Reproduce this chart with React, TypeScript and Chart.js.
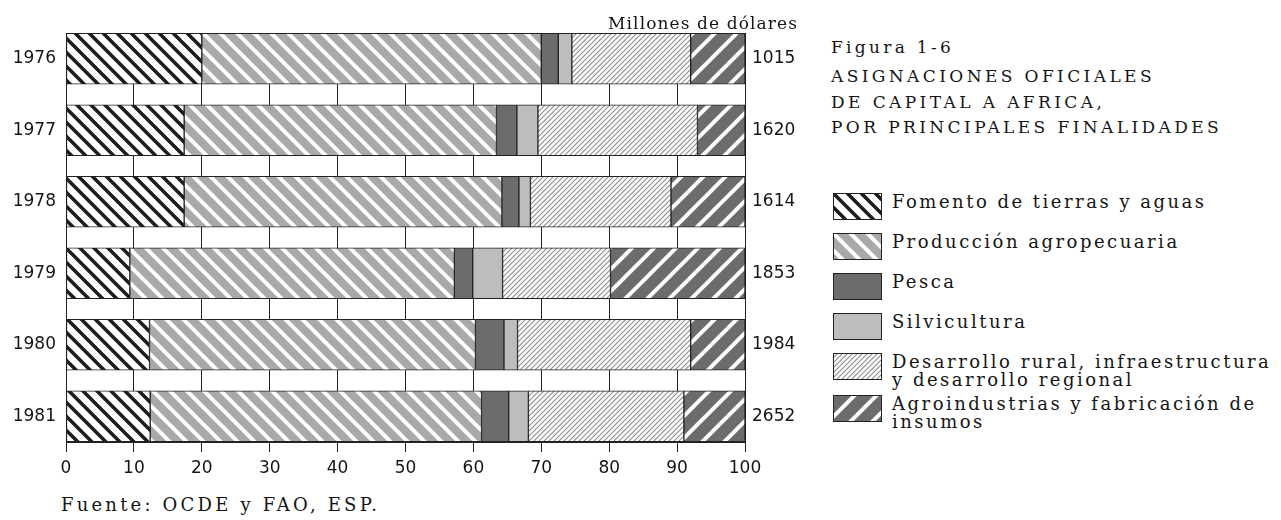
import React, { useEffect, useRef } from 'react';
import { Chart, registerables } from 'chart.js';

Chart.register(...registerables);

const years = ['1976', '1977', '1978', '1979', '1980', '1981'];
const totals = ['1015', '1620', '1614', '1853', '1984', '2652'];

const fomento = [20, 17.4, 17.4, 9.4, 12.3, 12.4];
const produccion = [50, 46, 46.8, 47.8, 48, 48.8];
const pesca = [2.5, 3, 2.5, 2.7, 4.2, 4];
const silvicultura = [2, 3.1, 1.7, 4.4, 2, 2.9];
const desarrollo = [17.5, 23.5, 20.7, 15.9, 25.5, 22.9];
const agroindustrias = [8, 7, 10.9, 19.8, 8, 9];

const seriesLabels = [
  ['Fomento de tierras y aguas'],
  ['Producción agropecuaria'],
  ['Pesca'],
  ['Silvicultura'],
  ['Desarrollo rural, infraestructura', 'y desarrollo regional'],
  ['Agroindustrias y fabricación de', 'insumos'],
];

const titleLines = ['ASIGNACIONES OFICIALES', 'DE CAPITAL A AFRICA,', 'POR PRINCIPALES FINALIDADES'];

type Spec = { bg: string; stripe?: string; dir?: 'back' | 'fwd'; size?: number; width?: number };

const specs: Spec[] = [
  { bg: '#ffffff', stripe: '#1c1c1c', dir: 'back', size: 14, width: 3.5 },
  { bg: '#a9a9a9', stripe: '#ffffff', dir: 'back', size: 17, width: 4 },
  { bg: '#6c6c6c' },
  { bg: '#bdbdbd' },
  { bg: '#ffffff', stripe: '#8c8c8c', dir: 'fwd', size: 5, width: 1.1 },
  { bg: '#6c6c6c', stripe: '#ffffff', dir: 'fwd', size: 22, width: 4 },
];

function makePattern(ctx: CanvasRenderingContext2D, spec: Spec): CanvasPattern | string {
  if (!spec.stripe) return spec.bg;
  const s = spec.size || 10;
  const c = document.createElement('canvas');
  c.width = s;
  c.height = s;
  const g = c.getContext('2d')!;
  g.fillStyle = spec.bg;
  g.fillRect(0, 0, s, s);
  g.strokeStyle = spec.stripe;
  g.lineWidth = spec.width || 1;
  for (let k = -1; k <= 1; k++) {
    g.beginPath();
    if (spec.dir === 'back') {
      g.moveTo(k * s - 2, -2);
      g.lineTo(k * s + s + 2, s + 2);
    } else {
      g.moveTo(k * s - 2, s + 2);
      g.lineTo(k * s + s + 2, -2);
    }
    g.stroke();
  }
  return ctx.createPattern(c, 'repeat')!;
}

function Swatch({ spec }: { spec: Spec }) {
  const ref = useRef<HTMLCanvasElement>(null);
  useEffect(() => {
    const cv = ref.current!;
    const ctx = cv.getContext('2d')!;
    ctx.fillStyle = makePattern(ctx, spec) as any;
    ctx.fillRect(0, 0, cv.width, cv.height);
    ctx.strokeStyle = '#222';
    ctx.lineWidth = 1;
    ctx.strokeRect(0.5, 0.5, cv.width - 1, cv.height - 1);
  }, [spec]);
  return <canvas ref={ref} width={49} height={27} style={{ position: 'absolute', left: 0, top: 0 }} />;
}

const serif = '"DejaVu Serif", serif';

export default function App() {
  const ref = useRef<HTMLCanvasElement>(null);

  useEffect(() => {
    const canvas = ref.current!;
    const ctx = canvas.getContext('2d')!;
    const series = [fomento, produccion, pesca, silvicultura, desarrollo, agroindustrias];
    const yOpts = (labels: string[], position: 'left' | 'right', width: number, pad: number) => ({
      type: 'linear' as const,
      position,
      min: -0.36,
      max: 5.36,
      reverse: true,
      stacked: true,
      offset: false,
      afterBuildTicks: (s: any) => {
        s.ticks = labels.map((_, i) => ({ value: i }));
      },
      afterFit: (s: any) => {
        s.width = width;
      },
      ticks: {
        callback: (v: any) => labels[Math.round(Number(v))],
        font: { family: '"DejaVu Sans"', size: 17 },
        color: '#151515',
        padding: pad,
      },
      grid: { display: false, drawTicks: false, offset: false },
      border: { display: true, color: '#222', width: 1 },
    });
    const chart = new Chart(ctx, {
      type: 'bar',
      data: {
        datasets: series.map((vals, k) => ({
          label: seriesLabels[k].join(' '),
          data: vals.map((v, i) => ({ x: v, y: i })),
          backgroundColor: makePattern(ctx, specs[k]) as any,
          borderColor: '#222',
          borderWidth: 1,
          borderSkipped: false,
          barThickness: 51,
          yAxisID: 'y',
        })),
      },
      options: {
        indexAxis: 'y',
        responsive: false,
        animation: false,
        layout: { padding: { top: 33, left: 0, right: 0, bottom: 0 } },
        plugins: { legend: { display: false }, tooltip: { enabled: false } },
        scales: {
          x: {
            type: 'linear',
            position: 'bottom',
            min: 0,
            max: 100,
            stacked: true,
            afterFit: (s: any) => {
              s.height = 48;
            },
            ticks: {
              stepSize: 10,
              maxRotation: 0,
              font: { family: '"DejaVu Sans"', size: 17 },
              color: '#151515',
              padding: 6,
            },
            grid: { color: '#222', lineWidth: 1, tickLength: 10, drawTicks: true },
            border: { color: '#222', width: 1 },
          },
          y: yOpts(years, 'left', 66, 10) as any,
          y2: yOpts(totals, 'right', 55, 7) as any,
        },
      },
    });
    return () => chart.destroy();
  }, []);

  const legendTops = [193, 233, 273, 313, 353, 395];

  return (
    <div
      style={{
        position: 'absolute',
        left: 0,
        top: 0,
        width: 1281,
        height: 520,
        background: '#fff',
        overflow: 'hidden',
        color: '#151515',
      }}
    >
      <canvas ref={ref} width={800} height={490} style={{ position: 'absolute', left: 0, top: 0 }} />
      <div
        style={{
          position: 'absolute',
          right: 1281 - 798,
          top: 13,
          font: `17px ${serif}`,
          letterSpacing: '1.1px',
          lineHeight: '20px',
          whiteSpace: 'nowrap',
        }}
      >
        Millones de dólares
      </div>
      <div
        style={{
          position: 'absolute',
          left: 831,
          top: 35,
          font: `17px ${serif}`,
          letterSpacing: '3.3px',
          lineHeight: '25px',
          whiteSpace: 'nowrap',
        }}
      >
        Figura 1-6
      </div>
      <div
        style={{
          position: 'absolute',
          left: 831,
          top: 64,
          font: `17px ${serif}`,
          letterSpacing: '3.4px',
          lineHeight: '25.5px',
          whiteSpace: 'nowrap',
        }}
      >
        {titleLines.map((t) => (
          <div key={t}>{t}</div>
        ))}
      </div>
      {seriesLabels.map((lines, k) => (
        <div key={k} style={{ position: 'absolute', left: 833, top: legendTops[k], width: 448, height: 50 }}>
          <Swatch spec={specs[k]} />
          <div
            style={{
              position: 'absolute',
              left: 59,
              top: 0,
              font: `18px ${serif}`,
              letterSpacing: '2.5px',
              lineHeight: '18px',
              whiteSpace: 'nowrap',
            }}
          >
            {lines.map((l) => (
              <div key={l}>{l}</div>
            ))}
          </div>
        </div>
      ))}
      <div
        style={{
          position: 'absolute',
          left: 61,
          top: 495,
          font: `18px ${serif}`,
          letterSpacing: '3.2px',
          lineHeight: '20px',
          whiteSpace: 'nowrap',
        }}
      >
        Fuente: OCDE y FAO, ESP.
      </div>
    </div>
  );
}
